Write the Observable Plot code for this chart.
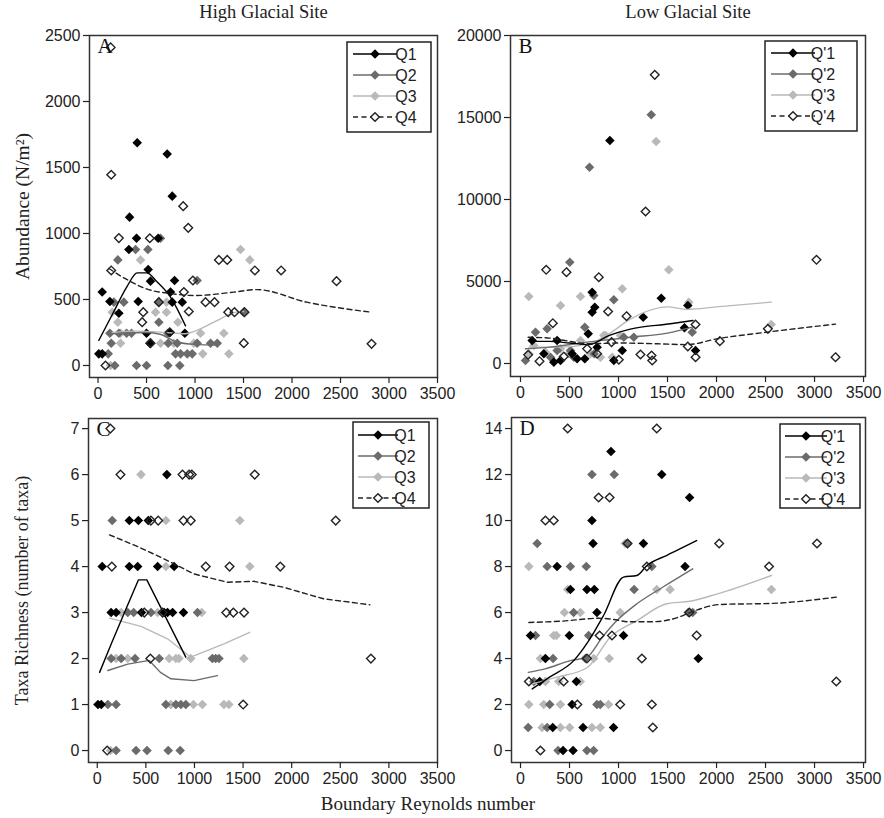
<!DOCTYPE html>
<html><head><meta charset="utf-8">
<script src="https://cdn.jsdelivr.net/npm/d3@7"></script>
<script src="https://cdn.jsdelivr.net/npm/@observablehq/plot@0.6"></script>
<style>
body{margin:0;background:#fff}
#wrap{position:relative;width:884px;height:818px;background:#fff}
.p{position:absolute}
.p svg{overflow:visible}
#xl{position:absolute;left:0;width:856px;top:793px;text-align:center;font-size:19px;font-family:"Liberation Serif","Times New Roman",serif;color:#222}
</style></head>
<body>
<div id="wrap">
  <div class="p" id="pA" style="left:0;top:0"></div>
  <div class="p" id="pB" style="left:442px;top:0"></div>
  <div class="p" id="pC" style="left:0;top:410px"></div>
  <div class="p" id="pD" style="left:442px;top:410px"></div>
  <div id="xl">Boundary Reynolds number</div>
</div>
<script>
// ---------- DATA ----------
const xTicks = [0, 500, 1000, 1500, 2000, 2500, 3000, 3500];
const yTicksA = [0, 500, 1000, 1500, 2000, 2500];
const yTicksB = [0, 5000, 10000, 15000, 20000];
const yTicksC = [0, 1, 2, 3, 4, 5, 6, 7];
const yTicksD = [0, 2, 4, 6, 8, 10, 12, 14];
const namesHigh = ["Q1", "Q2", "Q3", "Q4"];
const namesLow = ["Q'1", "Q'2", "Q'3", "Q'4"];

// Panel A: abundance, high glacial site
const A_Q1 = [[8,88],[43,88],[43,556],[122,485],[215,396],[325,1124],[318,879],[397,964],[404,1687],[414,485],[500,245],[517,727],[541,639],[534,169],[620,964],[713,1603],[740,250],[747,556],[765,1283],[765,480],[789,644],[868,480],[895,245]];
const A_Q2 = [[105,88],[122,245],[136,169],[163,480],[173,0],[204,800],[215,245],[266,480],[294,245],[345,245],[387,879],[397,0],[500,0],[514,879],[627,480],[627,328],[644,964],[720,245],[720,0],[723,169],[799,88],[816,169],[843,0],[851,88],[920,88],[971,88],[1022,644],[1022,169],[1160,169],[1229,169],[1500,404]];
const A_Q3 = [[129,0],[146,404],[204,328],[232,245],[232,169],[438,800],[593,404],[644,169],[706,404],[706,480],[781,169],[823,328],[988,169],[1057,245],[1080,88],[1297,245],[1349,88],[1469,879],[1565,800]];
const A_Q4 = [[130,2410],[136,1445],[215,965],[136,720],[534,964],[878,1207],[930,1043],[978,644],[885,556],[936,409],[466,404],[455,328],[541,169],[627,480],[740,252],[77,0],[1108,480],[1201,480],[1246,800],[1332,800],[1342,404],[1407,404],[1510,404],[1503,169],[1617,720],[1888,720],[2459,639],[2820,164]];
const A_Q1_fit = [[8,190],[150,390],[300,600],[404,702],[505,702],[600,640],[747,518],[902,300]];
const A_Q2_fit = [[129,240],[300,245],[500,250],[650,235],[800,180],[1000,160],[1230,155]];
const A_Q3_fit = [[146,250],[400,260],[700,250],[900,240],[1000,260],[1200,330],[1400,400],[1500,410]];
const A_Q4_fit = [[112,735],[300,650],[500,580],[750,545],[1000,530],[1400,556],[1640,575],[2150,480],[2800,405]];

// Panel B: abundance, low glacial site
const B_Q1 = [[119,1400],[374,1400],[238,591],[340,83],[408,183],[527,591],[578,285],[656,285],[691,1810],[731,4350],[758,3435],[731,3130],[782,995],[912,13598],[952,183],[1038,793],[1252,2825],[1436,3984],[1673,2177],[1707,3537],[1786,790]];
const B_Q2 = [[51,183],[153,1910],[272,2115],[306,387],[374,793],[503,6177],[510,790],[544,386],[656,2216],[704,11970],[748,4150],[752,591],[952,3884],[1054,1604],[1156,1604],[1334,15165],[1752,1910]];
const B_Q3 = [[85,591],[85,4085],[136,1098],[255,692],[408,3537],[408,895],[493,591],[612,4085],[612,1400],[714,591],[816,386],[850,1707],[867,1707],[936,386],[1020,1707],[1038,4553],[1384,13537],[1513,5713],[1717,3740],[2558,2378]];
const B_Q4 = [[78,530],[194,140],[262,5713],[330,2457],[442,427],[469,5567],[680,896],[782,591],[799,5262],[894,3170],[929,1299],[1003,226],[1082,2884],[1224,549],[1276,9268],[1337,488],[1344,183],[1370,17600],[1707,1036],[1786,384],[1786,2378],[2034,1360],[2524,2115],[3020,6323],[3214,384]];
const B_Q1_fit = [[100,1350],[300,1350],[500,1250],[700,1150],[900,1700],[1120,2100],[1530,2420],[1760,2620]];
const B_Q2_fit = [[50,900],[300,1000],[680,1300],[900,1450],[1120,1600],[1500,1850],[1770,2250]];
const B_Q3_fit = [[85,1000],[400,1000],[700,1200],[900,1800],[1120,2700],[1350,3300],[1500,3450],[1700,3300],[2000,3450],[2560,3740]];
const B_Q4_fit = [[78,1600],[300,1550],[500,1350],[700,1200],[1000,1250],[1400,1200],[1700,1150],[2000,1500],[2500,1900],[3214,2400]];

// Panel C: taxa richness, high glacial site
const C_Q1 = [[7,1],[41,1],[51,4],[143,3],[194,3],[330,5],[423,5],[525,5],[330,4],[416,4],[455,3],[621,4],[689,3],[716,6],[723,3],[775,3],[791,4],[887,3]];
const C_Q2 = [[109,1],[194,1],[154,5],[143,2],[246,2],[389,2],[638,2],[314,3],[375,3],[553,3],[1031,3],[706,1],[809,1],[860,1],[911,1],[194,0],[399,0],[512,0],[730,0],[853,0],[1184,2],[1218,2],[1252,2]];
const C_Q3 = [[136,0],[194,2],[314,2],[450,6],[706,5],[706,4],[246,3],[621,3],[1075,3],[740,2],[809,2],[840,2],[962,2],[1508,2],[757,1],[989,1],[1081,1],[1303,1],[1354,1],[1467,5],[1569,4]];
const C_Q4 = [[135,7],[239,6],[877,6],[945,6],[972,6],[1620,6],[552,5],[627,5],[887,5],[962,5],[2453,5],[150,4],[1116,4],[1361,4],[1883,4],[484,3],[672,3],[1327,3],[1400,3],[1510,3],[546,2],[2815,2],[1501,1],[102,0]];
const C_Q1_fit = [[24,1.7],[150,2.35],[300,3.1],[423,3.71],[510,3.71],[911,2.03]];
const C_Q2_fit = [[109,1.74],[314,1.88],[535,1.96],[650,1.7],[757,1.56],[996,1.52],[1235,1.63]];
const C_Q3_fit = [[126,2.88],[450,2.7],[723,2.43],[962,2.03],[1303,2.32],[1569,2.57]];
const C_Q4_fit = [[126,4.69],[400,4.45],[655,4.2],[996,3.84],[1338,3.66],[1610,3.68],[1917,3.55],[2327,3.30],[2804,3.17]];

// Panel D: taxa richness, low glacial site
const D_Q1 = [[923,13],[1441,12],[1725,11],[729,10],[740,9],[1254,9],[373,8],[1679,8],[509,7],[678,7],[753,7],[780,6],[102,5],[498,5],[1051,5],[254,4],[1814,4],[196,3],[570,3],[526,2],[329,1],[638,1],[949,1],[434,0],[536,0]];
const D_Q2 = [[729,12],[956,12],[170,9],[1092,9],[272,8],[509,8],[671,8],[1340,8],[1159,7],[542,6],[1712,6],[1757,6],[153,5],[695,5],[332,4],[661,4],[136,3],[298,2],[780,2],[814,2],[78,1],[272,1],[383,0],[678,0],[746,0]];
const D_Q3 = [[1068,9],[85,8],[481,7],[1390,7],[1526,7],[2560,7],[448,6],[610,6],[1017,6],[339,5],[366,5],[203,4],[746,4],[905,4],[254,3],[390,3],[610,3],[85,2],[237,2],[407,2],[898,2],[220,1],[407,1],[501,1],[729,1],[814,1]];
const D_Q4 = [[481,14],[1390,14],[797,11],[909,11],[254,10],[339,10],[1092,9],[2027,9],[3025,9],[1289,8],[2536,8],[1722,6],[807,5],[933,5],[1797,5],[678,4],[1238,4],[85,3],[440,3],[3222,3],[580,2],[1017,2],[1340,2],[1350,1],[203,0]];
const D_Q1_fit = [[119,2.68],[300,3.2],[543,3.91],[700,4.8],[847,5.87],[1051,7.54],[1187,7.61],[1289,8.04],[1500,8.5],[1729,8.99],[1797,9.13]];
const D_Q2_fit = [[80,3.4],[250,3.55],[509,3.91],[678,4.06],[830,4.9],[983,5.65],[1187,6.38],[1450,7.1],[1757,7.9]];
const D_Q3_fit = [[119,2.9],[373,3.19],[678,3.6],[916,4.93],[1187,5.65],[1492,6.38],[1729,6.49],[2000,6.8],[2560,7.61]];
const D_Q4_fit = [[85,5.57],[400,5.62],[800,5.75],[950,5.7],[1100,5.6],[1350,5.6],[1600,5.78],[1730,6.0],[2035,6.35],[2577,6.4],[3222,6.67]];

// ---------- STYLE ----------
const C1 = "#000000", C2 = "#6b6b6b", C3 = "#b9b9b9", C4 = "#222222";
const SANS = "'Liberation Sans', Arial, sans-serif";
const SERIF = "'Liberation Serif', 'Times New Roman', serif";
const R_FILL = 4.3, R_OPEN = 3.9;

function panel(cfg) {
  const X = d => d[0], Y = d => d[1];
  const fill = (data, color) => Plot.dot(data, {x: X, y: Y, symbol: "diamond2", r: R_FILL, fill: color, stroke: "none"});
  const ln = (data, color, dash) => Plot.line(data, {x: X, y: Y, stroke: color, strokeWidth: 1.4, curve: cfg.curve || "monotone-x", strokeDasharray: dash});
  const marks = [
    Plot.frame({stroke: "#333", strokeWidth: 1.5}),
    Plot.axisX(xTicks, {tickSize: 6, tickPadding: 4, tickFormat: d => String(d), label: null, fontSize: 16, strokeWidth: 1.2}),
    Plot.axisY(cfg.yTicks, {tickSize: 6, tickPadding: 3, tickFormat: d => String(d), label: null, fontSize: 16, strokeWidth: 1.2}),
    fill(cfg.s[2], C3), fill(cfg.s[1], C2), fill(cfg.s[0], C1),
    ln(cfg.f[2], C3), ln(cfg.f[1], C2), ln(cfg.f[0], C1), ln(cfg.f[3], C4, "5,3.5"),
    Plot.dot(cfg.s[3], {x: X, y: Y, symbol: "diamond2", r: R_OPEN, fill: "none", stroke: C4, strokeWidth: 1.4}),
    Plot.text([cfg.letter], {frameAnchor: "top-left", dx: 8, dy: 3, lineAnchor: "top", textAnchor: "start", fontSize: 21, fontFamily: SERIF, fill: "#111"})
  ];
  if (cfg.title) marks.push(Plot.text([cfg.title], {frameAnchor: "top", dy: -23, lineAnchor: "middle", fontSize: 18.5, fontFamily: SERIF, fill: "#222"}));
  if (cfg.ylabel) marks.push(Plot.text([cfg.ylabel], {frameAnchor: "left", dx: cfg.ylabelDx, rotate: -90, lineAnchor: "middle", textAnchor: "middle", fontSize: cfg.ylabelSize, fontFamily: SERIF, fill: "#222"}));
  const svg = Plot.plot({
    width: cfg.width, height: cfg.height,
    marginLeft: cfg.m[3], marginTop: cfg.m[0], marginRight: cfg.m[1], marginBottom: cfg.m[2],
    x: {domain: cfg.xDomain},
    y: {domain: cfg.yDomain},
    style: {fontFamily: SANS, fontSize: "16px", color: "#222", background: "none", overflow: "visible"},
    marks
  });
  // legend
  const L = cfg.legend;
  const g = d3.select(svg).append("g");
  g.append("rect").attr("x", L.box[0]).attr("y", L.box[1]).attr("width", L.box[2]).attr("height", L.box[3])
    .attr("fill", "white").attr("stroke", "#222").attr("stroke-width", 1.5);
  const colors = [C1, C2, C3, C4];
  cfg.names.forEach((name, i) => {
    const y = L.rows[i];
    g.append("line").attr("x1", L.line[0]).attr("x2", L.line[1]).attr("y1", y).attr("y2", y)
      .attr("stroke", colors[i]).attr("stroke-width", 1.4).attr("stroke-dasharray", i === 3 ? "5,3.5" : null);
    if (i < 3) g.append("path").attr("d", d3.symbol(d3.symbolDiamond2, Math.PI * R_FILL * R_FILL)()).attr("transform", `translate(${L.mark},${y})`).attr("fill", colors[i]);
    else g.append("path").attr("d", d3.symbol(d3.symbolDiamond2, Math.PI * R_OPEN * R_OPEN)()).attr("transform", `translate(${L.mark},${y})`).attr("fill", "white").attr("stroke", C4).attr("stroke-width", 1.4);
    g.append("text").attr("x", L.text).attr("y", y).attr("dy", "0.36em").attr("font-family", SANS).attr("font-size", 16).attr("fill", "#222").text(name);
  });
  return svg;
}

document.getElementById("pA").append(panel({
  width: 442, height: 410, m: [35, 5, 33, 89],
  xDomain: [-88, 3500], yDomain: [-91, 2500], yTicks: yTicksA,
  s: [A_Q1, A_Q2, A_Q3, A_Q4], f: [A_Q1_fit, A_Q2_fit, A_Q3_fit, A_Q4_fit],
  letter: "A", title: "High Glacial Site", ylabel: "Abundance (N/m²)", ylabelDx: -67, ylabelSize: 19.5,
  names: namesHigh,
  legend: {box: [347, 42, 84, 90], rows: [54, 75, 96, 117], line: [353, 397], mark: 375, text: 406}
}));
document.getElementById("pB").append(panel({
  width: 442, height: 410, m: [35, 19, 34, 68],
  xDomain: [-102, 3520], yDomain: [-793, 20000], yTicks: yTicksB,
  s: [B_Q1, B_Q2, B_Q3, B_Q4], f: [B_Q1_fit, B_Q2_fit, B_Q3_fit, B_Q4_fit],
  letter: "B", title: "Low Glacial Site",
  names: namesLow,
  legend: {box: [323, 41, 92, 90], rows: [53, 74, 95, 116], line: [329, 373], mark: 351, text: 381}
}));
document.getElementById("pC").append(panel({
  width: 442, height: 408, m: [8, 5, 56, 88],
  xDomain: [-90, 3500], yDomain: [-0.26, 7.22], yTicks: yTicksC,
  s: [C_Q1, C_Q2, C_Q3, C_Q4], f: [C_Q1_fit, C_Q2_fit, C_Q3_fit, C_Q4_fit],
  curve: "linear",
  letter: "C", ylabel: "Taxa Richness (number of taxa)", ylabelDx: -66, ylabelSize: 18,
  names: namesHigh,
  legend: {box: [353, 12, 76, 86], rows: [25, 46, 67, 88], line: [358, 398], mark: 378, text: 405}
}));
document.getElementById("pD").append(panel({
  width: 442, height: 408, m: [7, 19, 56, 69],
  xDomain: [-92, 3520], yDomain: [-0.52, 14.48], yTicks: yTicksD,
  s: [D_Q1, D_Q2, D_Q3, D_Q4], f: [D_Q1_fit, D_Q2_fit, D_Q3_fit, D_Q4_fit],
  letter: "D",
  names: namesLow,
  legend: {box: [338, 14, 80, 84], rows: [26, 47, 68, 89], line: [343, 385], mark: 364, text: 391}
}));
</script>
</body></html>
